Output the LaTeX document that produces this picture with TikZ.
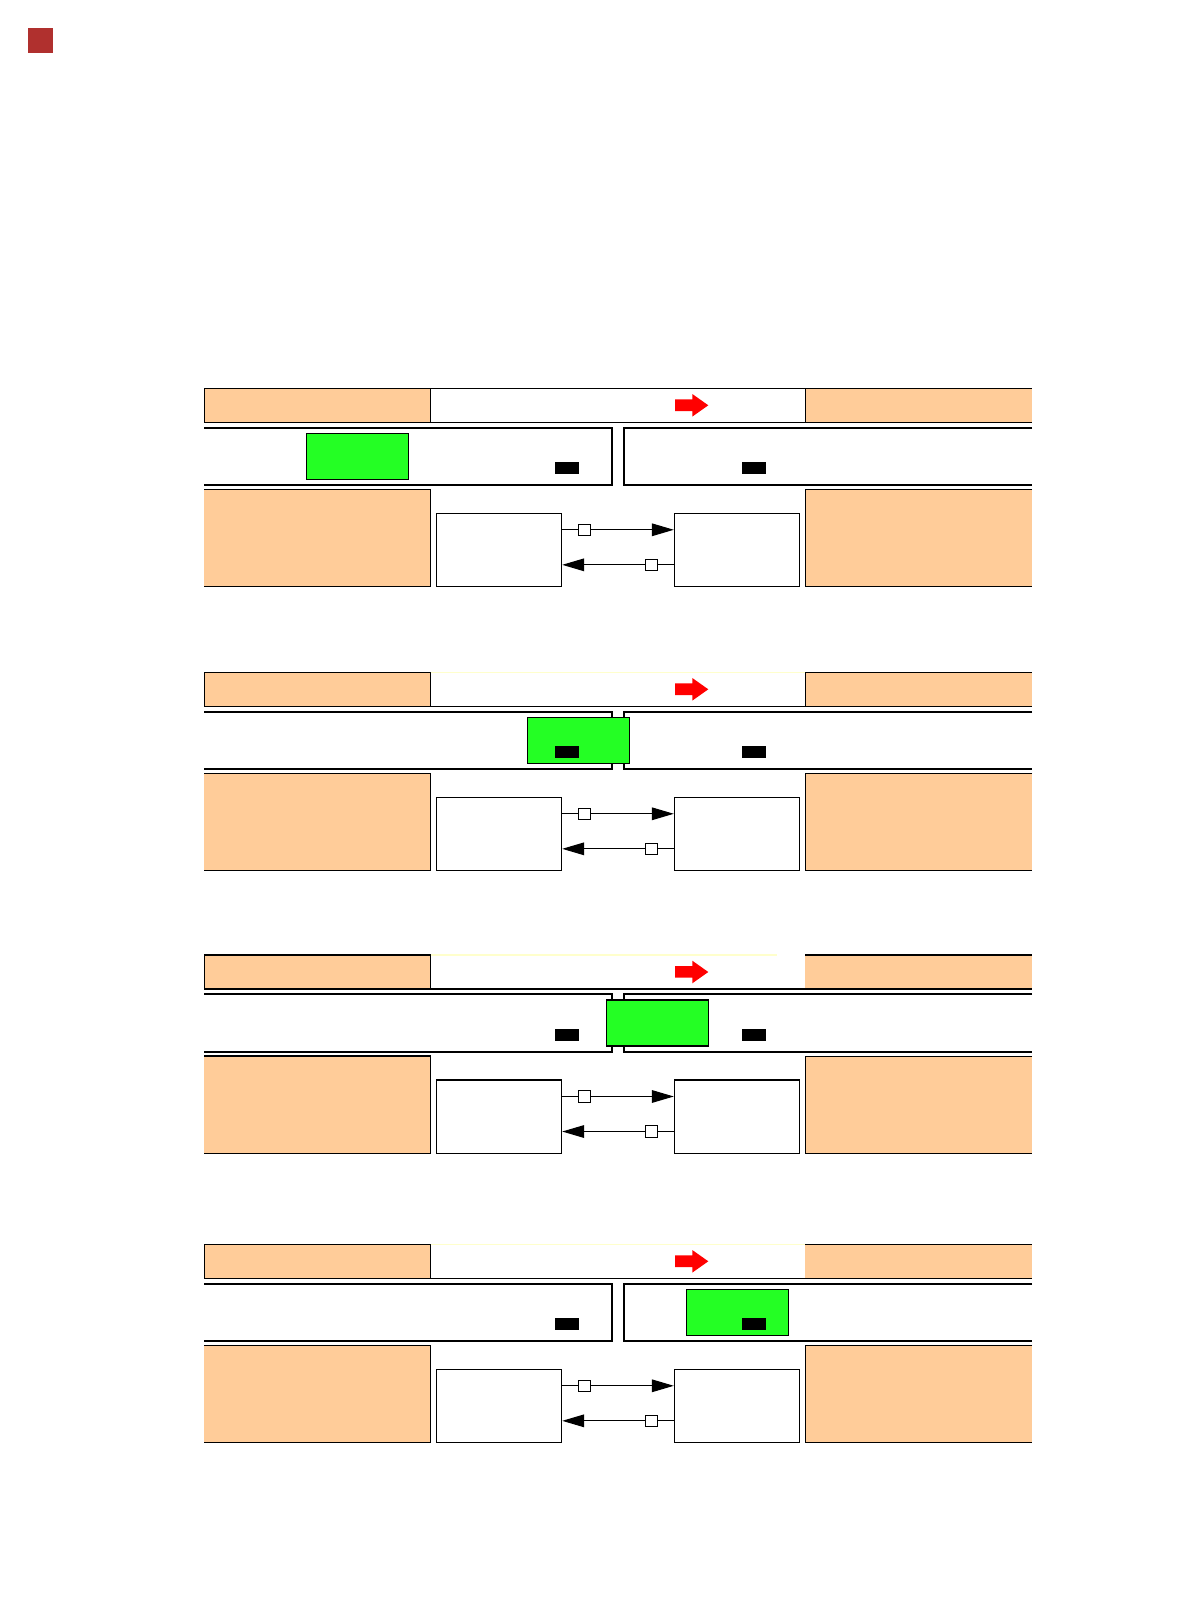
\documentclass[tikz,border=0pt]{standalone}
\usetikzlibrary{arrows.meta,calc}
\begin{document}
\begin{tikzpicture}[x=0.02cm, y=-0.02cm]
    \def\leftEdge{204.3}
    \def\rightEdge{1032}

    \definecolor{borderColour}{HTML}{000000}
    \definecolor{panelOrange}{HTML}{FFCC99}
    \definecolor{trainGreen}{HTML}{24FF24}
    \definecolor{markRed}{HTML}{B0302E}
    \definecolor{faintYellow}{HTML}{FFFFCC}

    \tikzset{
        thinLine/.style={draw=borderColour, line width=0.6pt},
        bandLine/.style={draw=borderColour, line width=1.1pt},
        unitBox/.style={rectangle, thinLine, fill=white, inner sep=0pt,
            minimum width=2.508cm, minimum height=1.468cm},
        portBox/.style={rectangle, thinLine, fill=white, inner sep=0pt,
            minimum size=0.226cm},
        linkArrow/.style={line width=0.6pt, -{Triangle[length=0.44cm, width=0.254cm]}}
    }

    \useasboundingbox (0,0) rectangle (1190,1606);

    % Corner mark
    \fill[markRed] (28,28) rectangle (52.7,52.7);

    % Panels: top / left of green block / top line colour / end of top line / divider
    \foreach \top/\greenX/\midColour/\midEnd/\divider/\n in
        {388.3/306.3/borderColour/805.3/1/1,
         672.3/527.3/faintYellow/805.3/1/2,
         955/606.3/faintYellow/776.7/0/3,
         1244.3/686.3/faintYellow/805.3/0/4} {
      \begin{scope}[shift={(0,\top)}]
        % Top bar
        \filldraw[fill=panelOrange, thinLine] (\leftEdge,0) rectangle (430.7,34);
        \fill[panelOrange] (805.3,0) rectangle (\rightEdge,34);
        \draw[thinLine] (805.3,0) -- (\rightEdge,0);
        \ifnum\divider=1
            \draw[thinLine] (805.3,0) -- (805.3,34);
        \fi
        \draw[draw=\midColour, line width=0.6pt] (430.7,0) -- (\midEnd,0);
        \draw[thinLine] (\leftEdge,34) -- (\rightEdge,34);
        \fill[red] (675,11) -- (692.3,11) -- (692.3,5.7) -- (708.3,17)
            -- (692.3,28.3) -- (692.3,22.7) -- (675,22.7) -- cycle;

        % Middle band
        \draw[bandLine] (\leftEdge,39.4) -- (612.3,39.4) -- (612.3,96.7) -- (\leftEdge,96.7);
        \draw[bandLine] (\rightEdge,39.4) -- (624,39.4) -- (624,96.7) -- (\rightEdge,96.7);
        \filldraw[fill=trainGreen, thinLine] (\greenX,45) rectangle ++(102.3,46);
        \fill (555,73.7) rectangle (579,85.7);
        \fill (742,73.7) rectangle (766,85.7);

        % Lower row
        \fill[panelOrange] (\leftEdge,101) rectangle (430.7,198.4);
        \draw[thinLine] (\leftEdge,101) -- (430.7,101) -- (430.7,198.4) -- (\leftEdge,198.4);
        \fill[panelOrange] (805.3,101.5) rectangle (\rightEdge,198.4);
        \draw[thinLine] (\rightEdge,101.5) -- (805.3,101.5) -- (805.3,198.4) -- (\rightEdge,198.4);

        \node[unitBox] (A\n) at (499,161.7) {};
        \node[unitBox] (B\n) at (737,161.7) {};

        \draw[linkArrow] ($(A\n.north east)+(0,17)$)
            -- node[portBox, pos=0.2] (pa\n) {} ($(B\n.north west)+(0,17)$);
        \draw[linkArrow] ($(B\n.south west)+(0,-22.4)$)
            -- node[portBox, pos=0.2] (pb\n) {} ($(A\n.south east)+(0,-22.4)$);
      \end{scope}
    }
\end{tikzpicture}
\end{document}
